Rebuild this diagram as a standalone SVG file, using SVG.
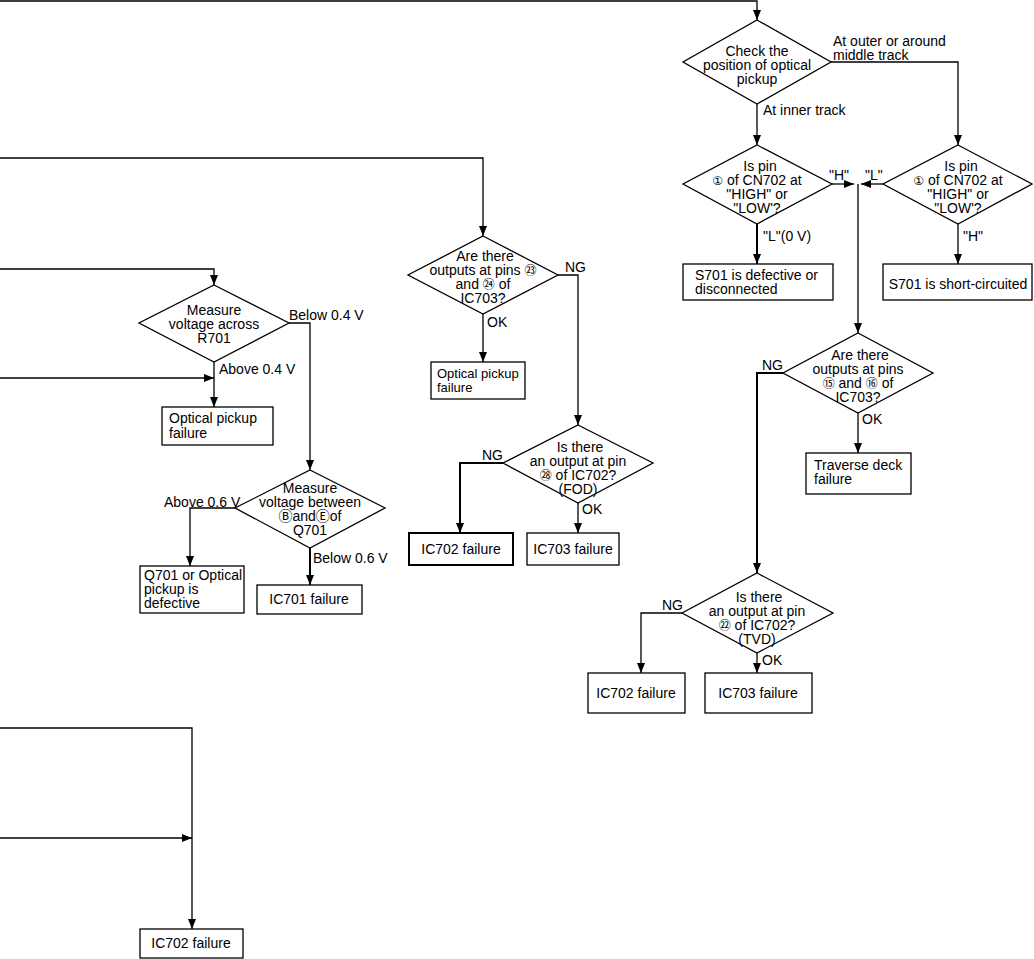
<svg xmlns="http://www.w3.org/2000/svg" width="1034" height="959" viewBox="0 0 1034 959">
<style>
  .bg{fill:#fff}
  .sh{fill:#fff;stroke:#000;stroke-width:1.3}
  .thk{stroke-width:2}
  .ln{fill:none;stroke:#000;stroke-width:1.3}
  .lt{fill:none;stroke:#000;stroke-width:2}
  text{font-family:"Liberation Sans","DejaVu Sans","Noto Sans CJK JP",sans-serif;font-size:14px;fill:#000}
  .c{text-anchor:middle}
  .n{font-size:12px}
  .m{font-size:14px}
  .s{font-size:13px}
</style>
<defs>
  <marker id="ar" markerUnits="userSpaceOnUse" markerWidth="10" markerHeight="8" refX="10" refY="4" orient="auto">
    <path d="M0,0 L10,4 L0,8 Z" fill="#000"/>
  </marker>
</defs>
<rect class="bg" x="0" y="0" width="1034" height="959"/>
<g id="connectors">
  <path class="ln" d="M0,1 H757 V20" marker-end="url(#ar)"/>
  <path class="ln" d="M831,62 H958 V145" marker-end="url(#ar)"/>
  <path class="ln" d="M757,104 V145" marker-end="url(#ar)"/>
  <path class="ln" d="M832,184 H854" marker-end="url(#ar)"/>
  <path class="ln" d="M883,184 H861" marker-end="url(#ar)"/>
  <path class="ln" d="M858,184 V333" marker-end="url(#ar)"/>
  <path class="lt" d="M757,224 V264" marker-end="url(#ar)"/>
  <path class="ln" d="M958,224 V264" marker-end="url(#ar)"/>
  <path class="lt" d="M783,373 H757 V573" marker-end="url(#ar)"/>
  <path class="ln" d="M858,413 V453" marker-end="url(#ar)"/>
  <path class="ln" d="M682,613 H641 V673" marker-end="url(#ar)"/>
  <path class="ln" d="M757,653 V673" marker-end="url(#ar)"/>
  <path class="ln" d="M0,158 H483 V236" marker-end="url(#ar)"/>
  <path class="ln" d="M558,275 H578 V425" marker-end="url(#ar)"/>
  <path class="ln" d="M483,314 V362" marker-end="url(#ar)"/>
  <path class="lt" d="M503,463 H460 V533" marker-end="url(#ar)"/>
  <path class="ln" d="M578,503 V533" marker-end="url(#ar)"/>
  <path class="ln" d="M0,269 H214 V285" marker-end="url(#ar)"/>
  <path class="ln" d="M289,323 H310 V470" marker-end="url(#ar)"/>
  <path class="ln" d="M214,362 V407" marker-end="url(#ar)"/>
  <path class="ln" d="M0,378 H214" marker-end="url(#ar)"/>
  <path class="ln" d="M235,508 H190 V566" marker-end="url(#ar)"/>
  <path class="lt" d="M310,548 V585" marker-end="url(#ar)"/>
  <path class="ln" d="M0,728 H192 V929" marker-end="url(#ar)"/>
  <path class="ln" d="M0,838 H192" marker-end="url(#ar)"/>
</g>
<g id="labels">
  <text x="833" y="46">At outer or around</text>
  <text x="833" y="60">middle track</text>
  <text x="763" y="115">At inner track</text>
  <text x="829" y="180">"H"</text>
  <text x="865" y="180">"L"</text>
  <text x="763" y="241">"L"(0 V)</text>
  <text x="963" y="241">"H"</text>
  <text x="762" y="370">NG</text>
  <text x="862" y="424">OK</text>
  <text x="662" y="610">NG</text>
  <text x="762" y="665">OK</text>
  <text x="565" y="272">NG</text>
  <text x="487" y="327">OK</text>
  <text x="482" y="460">NG</text>
  <text x="582" y="514">OK</text>
  <text x="289" y="320">Below 0.4 V</text>
  <text x="219" y="374">Above 0.4 V</text>
  <text x="164" y="507">Above 0.6 V</text>
  <text x="313" y="563">Below 0.6 V</text>
</g>
<g id="nodeA">
  <polygon class="sh" points="757,20 831,62 757,104 683,62"/>
  <text class="c" x="757" y="56">Check the</text>
  <text class="c" x="757" y="70">position of optical</text>
  <text class="c" x="757" y="84">pickup</text>
</g>
<g id="nodeB">
  <polygon class="sh" points="757,145 832,184 757,224 683,184"/>
  <text class="c" x="760" y="171">Is pin</text>
  <text class="c" x="757" y="185"><tspan class="n">①</tspan> of CN702 at</text>
  <text class="c" x="757" y="199">"HIGH" or</text>
  <text class="c" x="757" y="213">"LOW'?</text>
</g>
<g id="nodeC">
  <polygon class="sh" points="958,145 1032,184 958,224 883,184"/>
  <text class="c" x="961" y="171">Is pin</text>
  <text class="c" x="958" y="185"><tspan class="n">①</tspan> of CN702 at</text>
  <text class="c" x="958" y="199">"HIGH" or</text>
  <text class="c" x="958" y="213">"LOW'?</text>
</g>
<g id="nodeB1">
  <rect class="sh" x="683" y="264" width="150" height="36"/>
  <text x="695" y="280">S701 is defective or</text>
  <text x="695" y="294">disconnected</text>
</g>
<g id="nodeC1">
  <rect class="sh" x="883" y="264" width="149" height="36"/>
  <text class="c" x="958" y="289">S701 is short-circuited</text>
</g>
<g id="nodeD">
  <polygon class="sh" points="858,333 933,373 858,413 783,373"/>
  <text class="c" x="860" y="360">Are there</text>
  <text class="c" x="858" y="374">outputs at pins</text>
  <text class="c" x="858" y="388"><tspan class="n">⑮</tspan> and <tspan class="n">⑯</tspan> of</text>
  <text class="c" x="858" y="402">IC703?</text>
</g>
<g id="nodeD1">
  <rect class="sh" x="806" y="453" width="105" height="41"/>
  <text x="814" y="470">Traverse deck</text>
  <text x="814" y="484">failure</text>
</g>
<g id="nodeF">
  <polygon class="sh" points="757,573 833,613 757,653 682,613"/>
  <text class="c" x="759" y="602">Is there</text>
  <text class="c" x="757" y="616">an output at pin</text>
  <text class="c" x="757" y="630"><tspan class="n">㉒</tspan> of IC702?</text>
  <text class="c" x="757" y="644">(TVD)</text>
</g>
<g id="nodeF1">
  <rect class="sh" x="588" y="673" width="97" height="40"/>
  <text class="c" x="636" y="698">IC702 failure</text>
</g>
<g id="nodeF2">
  <rect class="sh" x="705" y="673" width="107" height="40"/>
  <text class="c" x="758" y="698">IC703 failure</text>
</g>
<g id="nodeE">
  <polygon class="sh" points="483,236 558,275 483,314 408,275"/>
  <text class="c" x="485" y="261">Are there</text>
  <text class="c" x="483" y="275">outputs at pins <tspan class="n">㉓</tspan></text>
  <text class="c" x="483" y="289">and <tspan class="n">㉔</tspan> of</text>
  <text class="c" x="483" y="303">IC703?</text>
</g>
<g id="nodeE1">
  <rect class="sh" x="431" y="362" width="94" height="37"/>
  <text class="s" x="437" y="378">Optical pickup</text>
  <text class="s" x="437" y="392">failure</text>
</g>
<g id="nodeG">
  <polygon class="sh" points="578,425 653,463 578,503 503,463"/>
  <text class="c" x="580" y="452">Is there</text>
  <text class="c" x="578" y="466">an output at pin</text>
  <text class="c" x="578" y="480"><tspan class="n">㉘</tspan> of IC702?</text>
  <text class="c" x="578" y="494">(FOD)</text>
</g>
<g id="nodeG1">
  <rect class="sh thk" x="409" y="533" width="104" height="32"/>
  <text class="c" x="461" y="554">IC702 failure</text>
</g>
<g id="nodeG2">
  <rect class="sh" x="527" y="533" width="92" height="32"/>
  <text class="c" x="573" y="554">IC703 failure</text>
</g>
<g id="nodeH">
  <polygon class="sh" points="214,285 289,323 214,362 139,323"/>
  <text class="c" x="214" y="315">Measure</text>
  <text class="c" x="214" y="329">voltage across</text>
  <text class="c" x="214" y="343">R701</text>
</g>
<g id="nodeH1">
  <rect class="sh" x="162" y="407" width="111" height="38"/>
  <text x="169" y="423">Optical pickup</text>
  <text x="169" y="438">failure</text>
</g>
<g id="nodeI">
  <polygon class="sh" points="310,470 385,508 310,548 235,508"/>
  <text class="c" x="310" y="493">Measure</text>
  <text class="c" x="310" y="507">voltage between</text>
  <text class="c" x="310" y="521"><tspan class="m">Ⓑ</tspan>and<tspan class="m">Ⓔ</tspan>of</text>
  <text class="c" x="310" y="535">Q701</text>
</g>
<g id="nodeI1">
  <rect class="sh" x="140" y="566" width="104" height="47"/>
  <text x="144" y="580">Q701 or Optical</text>
  <text x="144" y="594">pickup is</text>
  <text x="144" y="608">defective</text>
</g>
<g id="nodeI2">
  <rect class="sh" x="257" y="585" width="105" height="29"/>
  <text class="c" x="309" y="604">IC701 failure</text>
</g>
<g id="nodeJ">
  <rect class="sh" x="140" y="929" width="103" height="29"/>
  <text class="c" x="191" y="948">IC702 failure</text>
</g>
</svg>
